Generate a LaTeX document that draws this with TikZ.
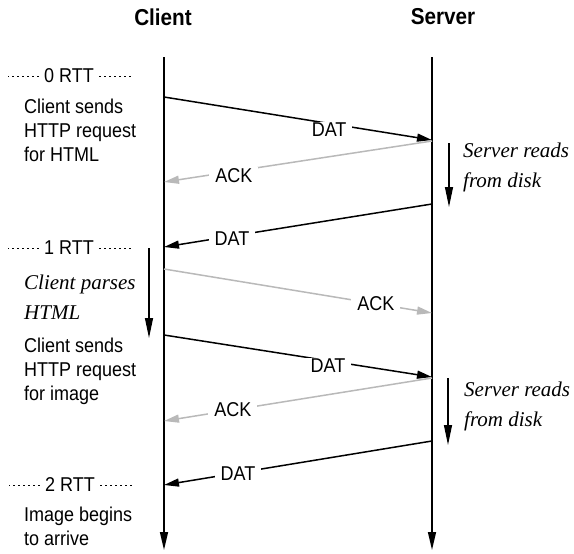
\documentclass[tikz,border=0pt]{standalone}
\usepackage{fontspec}
\setmainfont{Liberation Sans}[FakeStretch=0.9]
\newfontfamily\seritfont{Liberation Serif}
\usetikzlibrary{arrows.meta}
\definecolor{ackgray}{RGB}{185,185,185}
\begin{document}
\begin{tikzpicture}[x=1pt,y=-1pt,
  life/.style={line width=1.5pt,-{Triangle[length=18pt,width=8pt]}},
  proc/.style={line width=1.2pt,-{Triangle[length=20pt,width=8pt]}},
  msg/.style={line width=1.5pt,-{Triangle[length=15pt,width=8pt]}},
  ack/.style={msg,draw=ackgray},
  lbl/.style={font=\fontsize{20pt}{24pt}\selectfont,fill=white,inner xsep=6pt,inner ysep=1pt},
  note/.style={font=\fontsize{20pt}{24pt}\selectfont,align=left,anchor=north west,inner sep=0pt},
  inote/.style={font=\seritfont\itshape\fontsize{21pt}{30pt}\selectfont,align=left,anchor=north west,inner sep=0pt},
  ttl/.style={font=\bfseries\fontsize{23pt}{27pt}\selectfont,inner sep=0pt},
  rtt/.style={font=\fontsize{20pt}{24pt}\selectfont,inner sep=0pt},
  dots/.style={line width=1pt,dash pattern=on 1.6pt off 3.4pt}]
\useasboundingbox (0,0) rectangle (574,554);

% titles
\node[ttl] (ct) at (163,17) {Client};
\node[ttl] (st) at (443,17) {Server};

% lifelines
\coordinate (ctop) at (164,57);
\coordinate (cbot) at (164,550);
\coordinate (stop) at (432,57);
\coordinate (sbot) at (432,550);
\draw[life] (ctop) -- (cbot);
\draw[life] (stop) -- (sbot);

% message endpoints
\coordinate (cd1) at (164,97);  \coordinate (sd1) at (432,140);
\coordinate (sa1) at (432,141); \coordinate (ca1) at (164,182);
\coordinate (sd2) at (432,204); \coordinate (cd2) at (164,247);
\coordinate (ca2) at (164,269); \coordinate (sa2) at (432,313);
\coordinate (cd3) at (164,335); \coordinate (sd3) at (432,377);
\coordinate (sa3) at (432,378); \coordinate (ca3) at (164,421);
\coordinate (sd4) at (432,441); \coordinate (cd4) at (164,485);

% messages
\draw[msg] (cd1) -- node[lbl,pos=0.616,yshift=-6pt] (l1) {DAT} (sd1);
\draw[ack] (sa1) -- node[lbl,pos=0.739,yshift=-4pt] (l2) {ACK} (ca1);
\draw[msg] (sd2) -- node[lbl,pos=0.746,yshift=-3pt] (l3) {DAT} (cd2);
\draw[ack] (ca2) -- node[lbl,pos=0.791] (l4) {ACK} (sa2);
\draw[msg] (cd3) -- node[lbl,pos=0.612,yshift=-5pt] (l5) {DAT} (sd3);
\draw[ack] (sa3) -- node[lbl,pos=0.743] (l6) {ACK} (ca3);
\draw[msg] (sd4) -- node[lbl,pos=0.724,yshift=-1pt] (l7) {DAT} (cd4);

% processing arrows
\coordinate (p1a) at (449,143); \coordinate (p1b) at (449,207);
\coordinate (p2a) at (448,378); \coordinate (p2b) at (448,445);
\coordinate (p3a) at (149,248); \coordinate (p3b) at (149,338);
\draw[proc] (p1a) -- (p1b);
\draw[proc] (p2a) -- (p2b);
\draw[proc] (p3a) -- (p3b);

% RTT markers
\node[rtt] (r0) at (69,76) {0 RTT};
\node[rtt] (r1) at (69,248) {1 RTT};
\node[rtt] (r2) at (70,485) {2 RTT};
\foreach \r in {r0,r1,r2}{
  \draw[dots] ([xshift=-5pt]\r.west) -- ([xshift=-36pt]\r.west);
  \draw[dots] ([xshift=5pt]\r.east) -- ([xshift=38pt]\r.east);
}

% notes
\node[note] (n1) at (24,99) {Client sends\\HTTP request\\for HTML};
\node[inote] (i1) at (24,275) {Client parses\\HTML};
\node[note] (n2) at (24,338) {Client sends\\HTTP request\\for image};
\node[note] (n3) at (24,507) {Image begins\\to arrive};
\node[inote] (s1) at (463,143) {Server reads\\from disk};
\node[inote] (s2) at (464,382) {Server reads\\from disk};
\end{tikzpicture}
\end{document}
